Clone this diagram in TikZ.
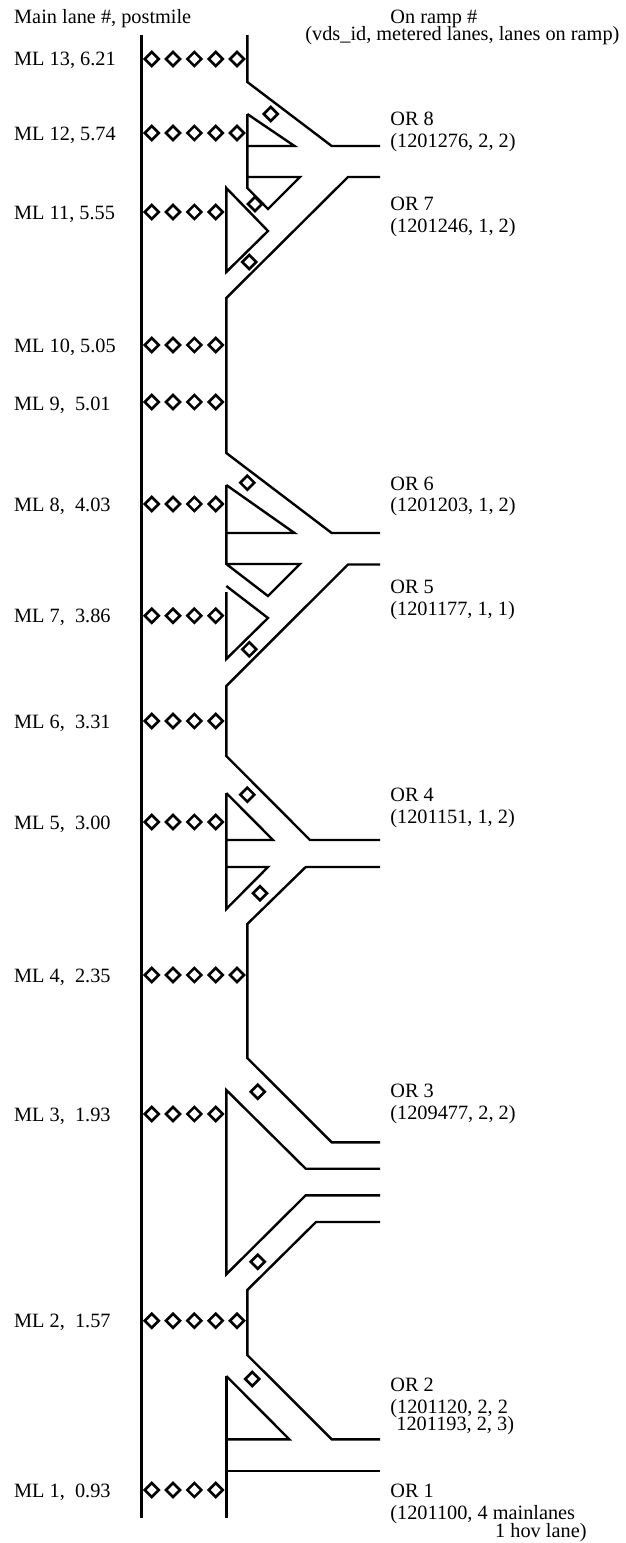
\documentclass[tikz,border=0pt]{standalone}
\usepackage{fontspec}
\setmainfont{Liberation Serif}
\tikzset{
  x=1pt,y=-1pt,
  road/.style={line width=2.4pt,black,line join=miter,line cap=butt},
  det/.style={line width=2.6pt,black,line join=miter},
  lab/.style={font=\fontsize{20.3}{20}\selectfont,anchor=base west,inner sep=0pt,align=left},
}
\newcommand{\detector}[2]{\draw[det] (#1-7,#2) -- (#1,#2-7) -- (#1+7,#2) -- (#1,#2+7) -- cycle;}
\begin{document}
\begin{tikzpicture}
\useasboundingbox (0,0) rectangle (626,1543);
% main boundary lines
\draw[road] (141.3,35) -- (141.3,1518);
\draw[road] (247.3,35) -- (247.3,82) -- (331.7,146) -- (380,146);
\draw[road] (247.3,114) -- (294.5,146) -- (247.3,146);
\draw[road] (247.3,114) -- (247.3,188) -- (268,209) -- (300,177) -- (247.3,177);
\draw[road] (226.3,188) -- (268,231) -- (226.3,272) -- cycle;
\draw[road] (380,177) -- (348,177) -- (226.3,298) -- (226.3,453) -- (331.7,533) -- (380,533);
\draw[road] (226.3,485) -- (294.5,533) -- (226.3,533);
\draw[road] (226.3,485) -- (226.3,564) -- (268,596) -- (300,564) -- (226.3,564);
\draw[road] (226.3,592) -- (226.3,659) -- (268,618) -- (226.3,586);
\draw[road] (380,564.5) -- (348,564.5) -- (226.3,686) -- (226.3,756) -- (310,840) -- (380,840);
\draw[road] (226.3,793) -- (273,840) -- (226.3,840);
\draw[road] (226.3,793) -- (226.3,909) -- (268,867) -- (226.3,867);
\draw[road] (380,867) -- (305.7,867) -- (247.3,924) -- (247.3,1058) -- (331.7,1142.3) -- (380,1142.3);
\draw[road] (380,1168.7) -- (305.7,1168.7) -- (226.3,1090) -- (226.3,1274.3) -- (305.7,1195.3) -- (380,1195.3);
\draw[road] (380,1222) -- (316,1222) -- (247.3,1290) -- (247.3,1355) -- (331.7,1439.3) -- (380,1439.3);
\draw[road] (226.3,1376) -- (289.3,1439.3) -- (226.3,1439.3);
\draw[road] (226.3,1376) -- (226.3,1518);
\draw[road] (226.3,1471) -- (380,1471);
% rows of detectors
\foreach \y/\n in {59/5,133/5,212/4,345/4,402/4,504/4,615.7/4,721/4,822/4,975/5,1114/4,1320.7/5,1490/4}{
  \foreach \i in {1,...,\n}{
    \pgfmathsetmacro{\xx}{151.7+21.33*(\i-1)}
    \detector{\xx}{\y}
  }
}
% ramp detectors
\foreach \xx/\y in {270.7/114,255/204,249.3/262,247.3/482.7,249.3/649.3,247.3/794.7,260/893.3,257.7/1091.7,257.7/1261.7,252.3/1379}{
  \detector{\xx}{\y}
}
% main lane labels
\node[lab] (head) at (14,23) {Main lane \#, postmile};
\foreach \y/\t [count=\k] in {65.7/{ML 13, 6.21},140/{ML 12, 5.74},219/{ML 11, 5.55},352/{ML 10, 5.05},410.7/{ML 9,\ \ 5.01},511/{ML 8,\ \ 4.03},622.5/{ML 7,\ \ 3.86},728/{ML 6,\ \ 3.31},829/{ML 5,\ \ 3.00},982/{ML 4,\ \ 2.35},1121/{ML 3,\ \ 1.93},1327.5/{ML 2,\ \ 1.57},1497/{ML 1,\ \ 0.93}}{
  \node[lab] (ml\k) at (14,\y) {\t};
}
% on-ramp labels
\node[lab] (onh) at (390.2,23.5) {On ramp \#};
\node[lab] (onh2) at (305.2,40) {(vds\_id, metered lanes, lanes on ramp)};
\foreach \y/\a/\b [count=\k] in {125.5/OR 8/{(1201276, 2, 2)},210.5/OR 7/{(1201246, 1, 2)},490/OR 6/{(1201203, 1, 2)},593.5/OR 5/{(1201177, 1, 1)},801.5/OR 4/{(1201151, 1, 2)},1097.5/OR 3/{(1209477, 2, 2)}}{
  \node[lab] (ora\k) at (390.2,\y) {\a};
  \node[lab] (orb\k) at (390.2,\y+21.9) {\b};
}
\node[lab] (or2a) at (390.2,1391.7) {OR 2};
\node[lab] (or2b) at (390.2,1413.3) {(1201120, 2, 2};
\node[lab] (or2c) at (396.2,1430.7) {1201193, 2, 3)};
\node[lab] (or1a) at (390.2,1497) {OR 1};
\node[lab] (or1b) at (390.2,1519) {(1201100, 4 mainlanes};
\node[lab] (or1c) at (495,1537) {1 hov lane)};
\end{tikzpicture}
\end{document}
